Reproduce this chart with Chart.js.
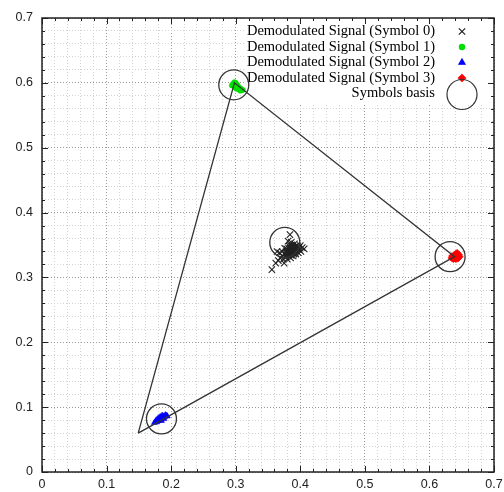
<!DOCTYPE html>
<html>
<head>
<meta charset="UTF-8">
<title>Demodulated Signal</title>
<script src="https://cdn.jsdelivr.net/npm/chart.js@4.4.0/dist/chart.umd.min.js"></script>
<style>
  html, body { margin: 0; padding: 0; background: #fff; }
  #wrap { width: 504px; height: 492px; }
</style>
</head>
<body>
<div id="wrap"><canvas id="iqChart" width="504" height="492"></canvas></div>
<script>
  // axis ticks (same on both axes)
  const tickLabels = ['0', '0.1', '0.2', '0.3', '0.4', '0.5', '0.6', '0.7'];
  const minorStep = 0.02;

  // demodulated points, [x, y]
  const symbol0 = [
    [0.356,0.312],[0.362,0.322],[0.366,0.326],[0.369,0.330],[0.372,0.333],[0.374,0.328],
    [0.376,0.336],[0.378,0.332],[0.380,0.338],[0.382,0.334],[0.384,0.341],[0.386,0.337],
    [0.388,0.343],[0.390,0.339],[0.392,0.345],[0.394,0.341],[0.396,0.347],[0.398,0.343],
    [0.400,0.349],[0.403,0.346],[0.379,0.344],[0.383,0.348],[0.387,0.350],[0.391,0.352],
    [0.384,0.366],[0.381,0.356],[0.376,0.345],[0.372,0.340],[0.368,0.338],[0.364,0.340],
    [0.385,0.330],[0.389,0.333],[0.393,0.336],[0.397,0.338],[0.401,0.340],[0.406,0.344],
    [0.380,0.328],[0.375,0.322],[0.387,0.345],[0.395,0.350],
    [0.381,0.340],[0.383,0.337],[0.385,0.344],[0.387,0.340],[0.389,0.346],[0.391,0.342],
    [0.393,0.348],[0.395,0.344],[0.386,0.334],[0.390,0.336],[0.382,0.345],[0.388,0.348],
    [0.384,0.350],[0.392,0.338],[0.378,0.340],[0.398,0.346],[0.386,0.354],[0.379,0.335]
  ];
  const symbol1 = [
    [0.296,0.599],[0.298,0.601],[0.297,0.597],[0.299,0.596],[0.301,0.598],[0.300,0.594],
    [0.302,0.595],[0.303,0.592],[0.305,0.593],[0.304,0.590],[0.306,0.590],[0.308,0.591],
    [0.309,0.589],[0.311,0.589],[0.299,0.593],[0.301,0.591],[0.294,0.596],[0.303,0.596],
    [0.307,0.588],[0.300,0.600]
  ];
  const symbol2 = [
    [0.174,0.076],[0.176,0.078],[0.178,0.077],[0.179,0.080],[0.181,0.079],[0.182,0.082],
    [0.184,0.081],[0.185,0.084],[0.187,0.083],[0.188,0.086],[0.190,0.085],[0.191,0.088],
    [0.193,0.087],[0.186,0.087],[0.183,0.085],[0.180,0.083],[0.189,0.082],[0.177,0.080],
    [0.194,0.086],[0.185,0.079]
  ];
  const symbol3 = [
    [0.634,0.330],[0.636,0.332],[0.638,0.334],[0.640,0.336],[0.642,0.337],[0.641,0.333],
    [0.643,0.331],[0.645,0.333],[0.646,0.335],[0.644,0.329],[0.639,0.330],[0.637,0.328],
    [0.641,0.328],[0.647,0.332],[0.643,0.338],[0.635,0.333],[0.640,0.331],[0.645,0.330]
  ];

  // symbol basis circles and the triangle through them
  const basisPoints = [[0.376,0.354],[0.297,0.597],[0.185,0.082],[0.632,0.332]];
  const trianglePath = [[0.149,0.060],[0.298,0.600],[0.639,0.332],[0.149,0.060]];

  const seriesLabels = [
    'Demodulated Signal (Symbol 0)',
    'Demodulated Signal (Symbol 1)',
    'Demodulated Signal (Symbol 2)',
    'Demodulated Signal (Symbol 3)',
    'Symbols basis'
  ];

  const toXY = arr => arr.map(p => ({ x: p[0], y: p[1] }));
  const isMajor = v => Math.abs(v * 10 - Math.round(v * 10)) < 1e-6;
  const tickFont = '12.5px "Liberation Sans", Arial, sans-serif';

  const allTicks = [];
  for (let i = 0; i <= Math.round(0.7 / minorStep); i++) allTicks.push(+(i * minorStep).toFixed(4));

  const markers = [
    { pointStyle: 'crossRot', radius: 4.5, color: '#222', fill: false },
    { pointStyle: 'circle', radius: 2.6, color: '#00e000', fill: true },
    { pointStyle: 'triangle', radius: 3.5, color: '#0000ff', fill: true },
    { pointStyle: 'rectRot', radius: 3.5, color: '#ff0000', fill: true },
    { pointStyle: 'circle', radius: 15, color: '#333', fill: false }
  ];

  function axisOpts(isX) {
    return {
      type: 'linear',
      min: 0,
      max: 0.7,
      afterBuildTicks: s => { s.ticks = allTicks.map(v => ({ value: v })); },
      afterFit: s => { if (isX) s.height = 20; else s.width = 42; },
      ticks: {
        // x labels are painted by the plugin
        display: !isX,
        autoSkip: false,
        maxRotation: 0,
        padding: 9,
        color: '#222',
        font: { family: '"Liberation Sans", Arial, sans-serif', size: 12.5 },
        callback: v => isMajor(v) ? tickLabels[Math.round(v * 10)] : ''
      },
      grid: {
        drawTicks: false,
        lineWidth: 1,
        color: c => isMajor(c.tick.value) ? '#9a9a9a' : '#d2d2d2'
      },
      border: { display: false, dash: [1, 2] }
    };
  }

  const framePlugin = {
    id: 'framePlugin',
    beforeDatasetsDraw(chart) {
      const ctx = chart.ctx, a = chart.chartArea;
      ctx.save();
      ctx.fillStyle = '#fff';
      ctx.fillRect(244, a.top, a.right - 244, 103 - a.top);
      ctx.font = '14.5px "Liberation Serif", "Times New Roman", serif';
      ctx.textAlign = 'right';
      ctx.textBaseline = 'middle';
      seriesLabels.forEach((t, i) => {
        const y = 31.5 + i * 15.5;
        ctx.fillStyle = '#000';
        ctx.fillText(t, 435, y);
        const m = markers[i];
        ctx.strokeStyle = m.color;
        ctx.fillStyle = m.fill ? m.color : 'rgba(0,0,0,0)';
        ctx.lineWidth = 1.2;
        Chart.helpers.drawPoint(ctx, { pointStyle: m.pointStyle, radius: m.radius, rotation: 0, borderWidth: 1.2 }, 462, i === 4 ? y + 1 : y);
      });
      ctx.restore();
    },
    afterDraw(chart) {
      const ctx = chart.ctx, a = chart.chartArea;
      const xs = chart.scales.x, ys = chart.scales.y;
      ctx.save();
      ctx.strokeStyle = '#222';
      ctx.lineWidth = 1;
      ctx.beginPath();
      allTicks.forEach(v => {
        const len = isMajor(v) ? 6 : 3;
        const px = Math.round(xs.getPixelForValue(v)) + 0.5;
        ctx.moveTo(px, a.bottom); ctx.lineTo(px, a.bottom - len);
        ctx.moveTo(px, a.top); ctx.lineTo(px, a.top + len);
        const py = Math.round(ys.getPixelForValue(v)) + 0.5;
        ctx.moveTo(a.left, py); ctx.lineTo(a.left + len, py);
        ctx.moveTo(a.right, py); ctx.lineTo(a.right - len, py);
      });
      ctx.stroke();
      ctx.lineWidth = 1.5;
      ctx.strokeRect(a.left, a.top, a.right - a.left, a.bottom - a.top);

      // x tick labels
      ctx.font = tickFont;
      ctx.fillStyle = '#222';
      ctx.textAlign = 'center';
      ctx.textBaseline = 'middle';
      tickLabels.forEach((t, i) => {
        ctx.fillText(t, xs.getPixelForValue(i / 10), a.bottom + 12.5);
      });
      ctx.restore();
    }
  };

  function pointSet(data, i) {
    const m = markers[i];
    return {
      label: seriesLabels[i],
      data: toXY(data),
      pointStyle: m.pointStyle,
      pointRadius: m.radius,
      borderColor: m.color,
      backgroundColor: m.fill ? m.color : 'rgba(0,0,0,0)',
      borderWidth: m.fill ? 0.5 : 1.1,
      showLine: false
    };
  }

  new Chart(document.getElementById('iqChart').getContext('2d'), {
    type: 'scatter',
    data: {
      datasets: [
        Object.assign(pointSet(basisPoints, 4), { order: 0, borderWidth: 1.3 }),
        {
          label: 'triangle',
          data: toXY(trianglePath),
          showLine: true,
          borderColor: '#333',
          borderWidth: 1.3,
          pointRadius: 0,
          order: 1
        },
        Object.assign(pointSet(symbol0, 0), { order: 2 }),
        Object.assign(pointSet(symbol1, 1), { order: 3 }),
        Object.assign(pointSet(symbol2, 2), { order: 4 }),
        Object.assign(pointSet(symbol3, 3), { order: 5 })
      ]
    },
    options: {
      responsive: false,
      animation: false,
      layout: { autoPadding: false, padding: { top: 18, right: 10, left: 0, bottom: 0 } },
      plugins: {
        legend: { display: false },
        tooltip: { enabled: false }
      },
      scales: {
        x: axisOpts(true),
        y: axisOpts(false)
      }
    },
    plugins: [framePlugin]
  });
</script>
</body>
</html>
